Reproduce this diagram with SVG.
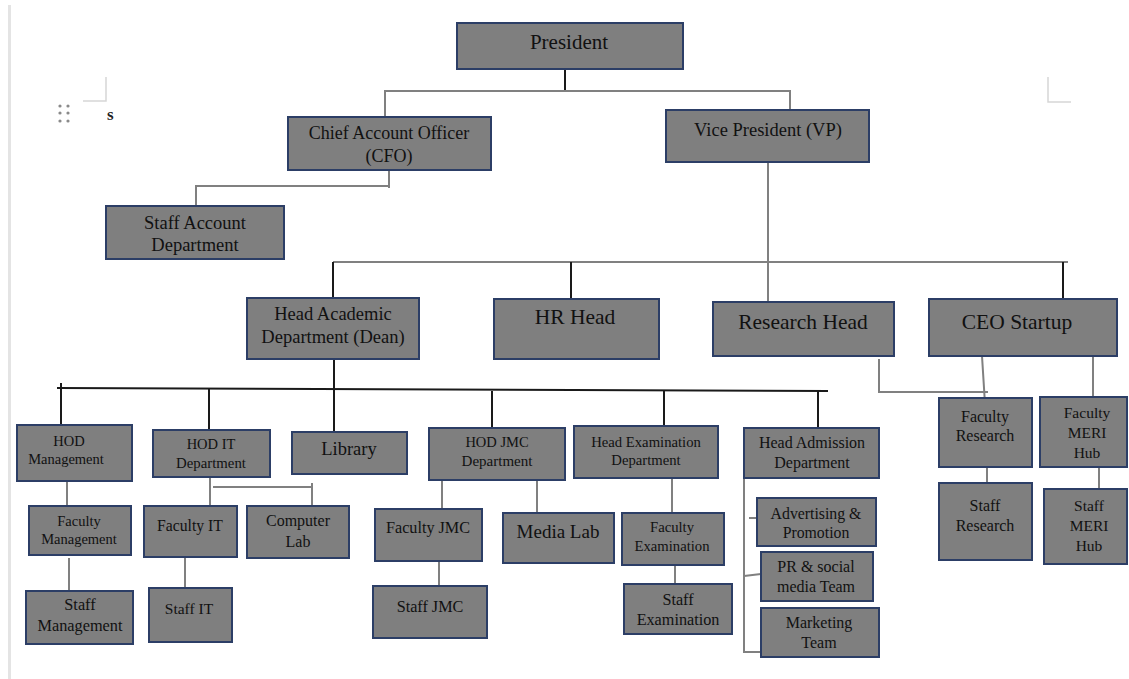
<svg xmlns="http://www.w3.org/2000/svg" width="1129" height="679" viewBox="0 0 1129 679">
<style>
.box{fill:#7f7f7f;stroke:#2c3e66;stroke-width:2}
.t{font-family:"Liberation Serif","Times New Roman",serif;fill:#111;text-anchor:middle}
.g{fill:none;stroke:#808080;stroke-width:2}
.d{fill:none;stroke:#1a1a1a;stroke-width:2}
.m{fill:none;stroke:#d6d6d6;stroke-width:1.5}
</style>
<rect x="0" y="0" width="1129" height="679" fill="#ffffff"/>
<line x1="9.5" y1="5" x2="9.5" y2="679" stroke="#e4e4e4" stroke-width="3"/>
<g id="page-marks">
<path class="m" d="M106 77 V101 H83"/>
<path class="m" d="M1048 77 V102 H1071"/>
<g fill="#8a8a8a">
<circle cx="60" cy="106" r="1.6"/><circle cx="68" cy="106" r="1.6"/>
<circle cx="60" cy="113" r="1.6"/><circle cx="68" cy="113" r="1.6"/>
<circle cx="60" cy="121" r="1.6"/><circle cx="68" cy="121" r="1.6"/>
</g>
<text x="107" y="120" font-family="Liberation Serif, serif" font-size="17" font-weight="bold" fill="#222">s</text>
</g>
<g id="connectors">
<path class="d" d="M565 69 V92"/>
<path class="g" d="M385 117 V91 H790 V116"/>
<path class="g" d="M389 170 V188 M389 186 H196 V206"/>
<path class="g" d="M768 162 V313"/>
<path class="g" d="M333 262 H1068"/>
<path class="d" d="M333 262 V298 M571 262 V299 M1063 262 V299"/>
<path class="d" d="M57 388 L828 391"/>
<path class="d" d="M61 383 V426 M209 388 V431 M334 359 V442 M492 391 V428 M664 390 V427 M818 391 V429"/>
<path class="g" d="M879 359 V393 M879 392 H988"/>
<path class="g" d="M982 356 L985 404"/>
<path class="g" d="M1093 356 V397"/>
<path class="g" d="M987 467 V487"/>
<path class="g" d="M1099 467 V491"/>
<path class="g" d="M744 478 V652 H761"/>
<path class="g" d="M749 518 H763"/>
<path class="g" d="M744 576 L761 574"/>
<path class="g" d="M67 481 V512"/>
<path class="g" d="M69 558 V595"/>
<path class="g" d="M210 477 V520"/>
<path class="g" d="M213 487 H312 V506 M312 483 V487"/>
<path class="g" d="M185 557 V590"/>
<path class="g" d="M442 480 V508"/>
<path class="g" d="M439 561 V593"/>
<path class="g" d="M537 480 V517"/>
<path class="g" d="M672 478 V519"/>
<path class="g" d="M675 565 V590"/>
</g>
<g id="president"><rect class="box" x="457" y="23" width="226" height="46"/><text class="t" x="569" y="49" font-size="21">President</text></g>
<g id="cfo"><rect class="box" x="288" y="117" width="203" height="53"/><text class="t" x="389" y="139" font-size="18">Chief Account Officer</text><text class="t" x="389" y="162" font-size="18">(CFO)</text></g>
<g id="vp"><rect class="box" x="666" y="110" width="203" height="52"/><text class="t" x="768" y="136" font-size="18.5">Vice President (VP)</text></g>
<g id="staff-account"><rect class="box" x="106" y="206" width="178" height="53"/><text class="t" x="195" y="229" font-size="18.5">Staff Account</text><text class="t" x="195" y="251" font-size="18.5">Department</text></g>
<g id="head-academic"><rect class="box" x="247" y="298" width="172" height="61"/><text class="t" x="333" y="320" font-size="18.5">Head Academic</text><text class="t" x="333" y="343" font-size="18.5">Department (Dean)</text></g>
<g id="hr-head"><rect class="box" x="494" y="299" width="165" height="60"/><text class="t" x="575" y="324" font-size="21.5">HR Head</text></g>
<g id="research-head"><rect class="box" x="713" y="302" width="181" height="54"/><text class="t" x="803" y="329" font-size="21.5">Research Head</text></g>
<g id="ceo-startup"><rect class="box" x="929" y="299" width="188" height="57"/><text class="t" x="1017" y="329" font-size="21.5">CEO Startup</text></g>
<g id="hod-management"><rect class="box" x="17" y="425" width="115" height="56"/><text class="t" x="69" y="446" font-size="14.5">HOD</text><text class="t" x="66" y="464" font-size="14.5">Management</text></g>
<g id="hod-it"><rect class="box" x="153" y="430" width="117" height="47"/><text class="t" x="211" y="449" font-size="14.5">HOD IT</text><text class="t" x="211" y="468" font-size="14.8">Department</text></g>
<g id="library"><rect class="box" x="292" y="432" width="115" height="42"/><text class="t" x="349" y="455" font-size="18.5">Library</text></g>
<g id="hod-jmc"><rect class="box" x="429" y="428" width="136" height="52"/><text class="t" x="497" y="447" font-size="14.5">HOD JMC</text><text class="t" x="497" y="466" font-size="15">Department</text></g>
<g id="head-examination"><rect class="box" x="574" y="426" width="144" height="52"/><text class="t" x="646" y="447" font-size="14.7">Head Examination</text><text class="t" x="646" y="465" font-size="14.7">Department</text></g>
<g id="head-admission"><rect class="box" x="744" y="428" width="135" height="50"/><text class="t" x="812" y="448" font-size="16">Head Admission</text><text class="t" x="812" y="468" font-size="16">Department</text></g>
<g id="faculty-research"><rect class="box" x="939" y="398" width="93" height="69"/><text class="t" x="985" y="422" font-size="16">Faculty</text><text class="t" x="985" y="441" font-size="16">Research</text></g>
<g id="faculty-meri"><rect class="box" x="1040" y="397" width="87" height="70"/><text class="t" x="1087" y="418" font-size="15.5">Faculty</text><text class="t" x="1087" y="438" font-size="15.5">MERI</text><text class="t" x="1087" y="458" font-size="15.5">Hub</text></g>
<g id="staff-research"><rect class="box" x="939" y="483" width="93" height="77"/><text class="t" x="985" y="511" font-size="16">Staff</text><text class="t" x="985" y="531" font-size="16">Research</text></g>
<g id="staff-meri"><rect class="box" x="1044" y="489" width="83" height="75"/><text class="t" x="1089" y="511" font-size="15.5">Staff</text><text class="t" x="1089" y="531" font-size="15.5">MERI</text><text class="t" x="1089" y="551" font-size="15.5">Hub</text></g>
<g id="faculty-management"><rect class="box" x="29" y="506" width="102" height="49"/><text class="t" x="79" y="526" font-size="14.5">Faculty</text><text class="t" x="79" y="544" font-size="14.5">Management</text></g>
<g id="staff-management"><rect class="box" x="26" y="591" width="107" height="53"/><text class="t" x="80" y="610" font-size="16.3">Staff</text><text class="t" x="80" y="631" font-size="16.3">Management</text></g>
<g id="faculty-it"><rect class="box" x="144" y="506" width="93" height="51"/><text class="t" x="190" y="531" font-size="15.7">Faculty IT</text></g>
<g id="computer-lab"><rect class="box" x="247" y="506" width="102" height="52"/><text class="t" x="298" y="526" font-size="16">Computer</text><text class="t" x="298" y="547" font-size="16">Lab</text></g>
<g id="staff-it"><rect class="box" x="149" y="588" width="83" height="54"/><text class="t" x="189" y="614" font-size="15.5">Staff IT</text></g>
<g id="faculty-jmc"><rect class="box" x="375" y="509" width="107" height="52"/><text class="t" x="428" y="533" font-size="16.2">Faculty JMC</text></g>
<g id="staff-jmc"><rect class="box" x="373" y="586" width="114" height="52"/><text class="t" x="430" y="612" font-size="16.2">Staff JMC</text></g>
<g id="media-lab"><rect class="box" x="503" y="513" width="111" height="50"/><text class="t" x="558" y="538" font-size="19">Media Lab</text></g>
<g id="faculty-examination"><rect class="box" x="622" y="513" width="102" height="52"/><text class="t" x="672" y="532" font-size="14.7">Faculty</text><text class="t" x="672" y="551" font-size="14.7">Examination</text></g>
<g id="staff-examination"><rect class="box" x="624" y="584" width="108" height="50"/><text class="t" x="678" y="605" font-size="16.2">Staff</text><text class="t" x="678" y="625" font-size="16.2">Examination</text></g>
<g id="advertising"><rect class="box" x="757" y="498" width="119" height="48"/><text class="t" x="816" y="519" font-size="15.8">Advertising &amp;</text><text class="t" x="816" y="538" font-size="15.8">Promotion</text></g>
<g id="pr-social"><rect class="box" x="761" y="552" width="112" height="49"/><text class="t" x="816" y="572" font-size="16">PR &amp; social</text><text class="t" x="816" y="592" font-size="16">media Team</text></g>
<g id="marketing"><rect class="box" x="761" y="608" width="118" height="49"/><text class="t" x="819" y="628" font-size="16">Marketing</text><text class="t" x="819" y="648" font-size="16">Team</text></g>
</svg>
